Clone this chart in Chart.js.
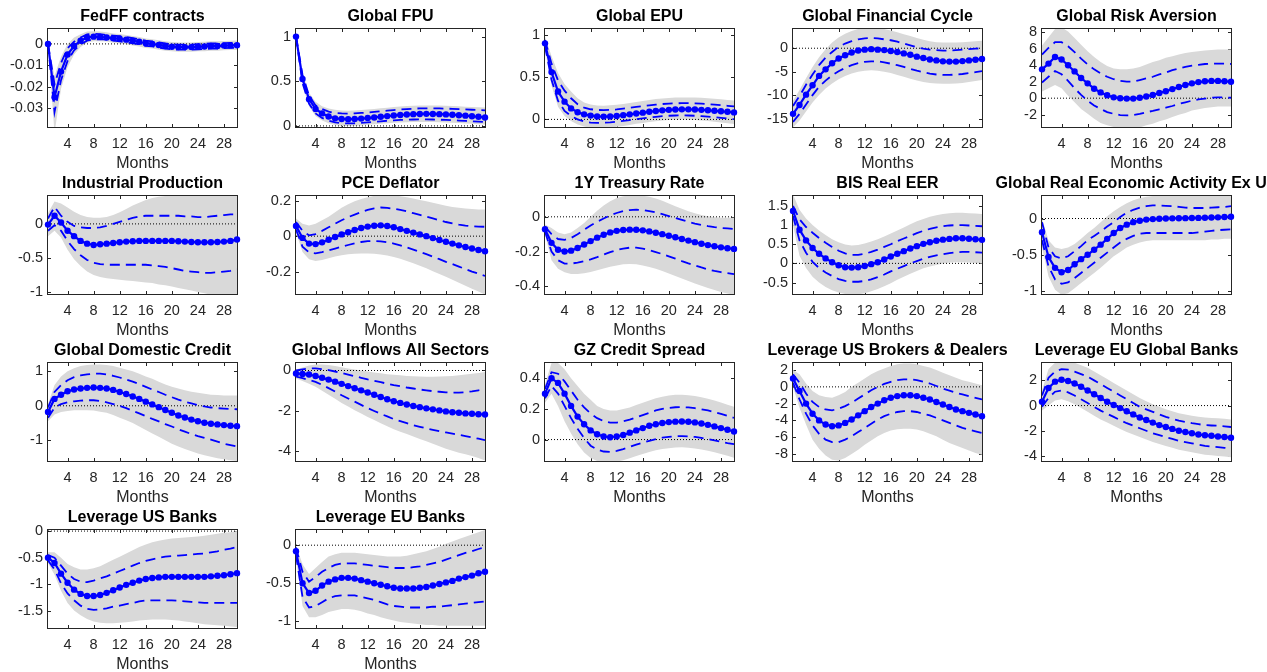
<!DOCTYPE html>
<html>
<head>
<meta charset="utf-8">
<script src="https://cdn.jsdelivr.net/npm/chart.js@4.4.1/dist/chart.umd.min.js"></script>
<style>
  html, body { margin: 0; padding: 0; background: #fff; overflow: hidden; width: 1267px; height: 672px; }
  canvas { position: absolute; }
</style>
</head>
<body>
<script>
// Impulse responses: median (dots), 68% bands (dashed), 90% bands (grey area)
const MONTHS = [1,2,3,4,5,6,7,8,9,10,11,12,13,14,15,16,17,18,19,20,21,22,23,24,25,26,27,28,29,30];
const X_TICKS = [4,8,12,16,20,24,28];

// FedFF contracts
const FEDFF_MED  = [0,-0.025,-0.013,-0.005,-0.001,0.0015,0.003,0.0034,0.0033,0.003,0.0027,0.0024,0.002,0.0015,0.001,0.0003,0,-0.0005,-0.001,-0.0013,-0.0015,-0.0015,-0.0015,-0.0013,-0.0012,-0.001,-0.001,-0.0008,-0.0007,-0.0006];
const FEDFF_LO68 = [0,-0.032,-0.017,-0.008,-0.003,-0.0002,0.0015,0.0022,0.0022,0.002,0.0015,0.0012,0.0008,0.0003,-0.0002,-0.0009,-0.0012,-0.0017,-0.0022,-0.0025,-0.0027,-0.0027,-0.0027,-0.0025,-0.0024,-0.0022,-0.0022,-0.002,-0.0019,-0.0018];
const FEDFF_HI68 = [0,-0.019,-0.009,-0.002,0.001,0.003,0.0045,0.0047,0.0046,0.0042,0.0039,0.0036,0.0032,0.0027,0.0022,0.0015,0.0012,0.0007,0.0002,-0.0001,-0.0003,-0.0003,-0.0003,-0.0001,0,0.0002,0.0002,0.0004,0.0005,0.0006];
const FEDFF_LO90 = [0,-0.042,-0.021,-0.011,-0.005,-0.0015,0.0005,0.0012,0.0012,0.0011,0.0005,0.0002,-0.0002,-0.0007,-0.0012,-0.0019,-0.0022,-0.0027,-0.0032,-0.0035,-0.0037,-0.0037,-0.0037,-0.0035,-0.0034,-0.0032,-0.0032,-0.003,-0.0029,-0.0028];
const FEDFF_HI90 = [0,-0.015,-0.006,0,0.003,0.0045,0.0058,0.006,0.0058,0.0055,0.0049,0.0046,0.0042,0.0037,0.0032,0.0025,0.0022,0.0017,0.0012,0.0009,0.0007,0.0007,0.0007,0.0009,0.001,0.0012,0.0012,0.0014,0.0015,0.0016];
const FEDFF_YTICKS = [-0.03,-0.02,-0.01,0];
const FEDFF_YLABELS = ['-0.03','-0.02','-0.01','0'];

// Global FPU
const FPU_MED  = [1.0,0.525,0.3,0.19,0.14,0.105,0.085,0.078,0.075,0.078,0.082,0.088,0.095,0.103,0.11,0.117,0.123,0.128,0.132,0.134,0.135,0.134,0.132,0.129,0.125,0.12,0.115,0.108,0.102,0.095];
const FPU_LO68 = [1.0,0.48,0.25,0.14,0.09,0.06,0.04,0.03,0.028,0.03,0.034,0.04,0.046,0.052,0.058,0.063,0.067,0.07,0.072,0.073,0.073,0.072,0.07,0.067,0.064,0.06,0.056,0.052,0.048,0.044];
const FPU_HI68 = [1.0,0.57,0.34,0.23,0.19,0.16,0.145,0.14,0.138,0.14,0.145,0.15,0.157,0.164,0.171,0.178,0.184,0.189,0.193,0.196,0.197,0.197,0.196,0.194,0.191,0.188,0.185,0.181,0.178,0.175];
const FPU_LO90 = [1.0,0.45,0.22,0.11,0.06,0.03,0.01,0.0,0.0,0.002,0.006,0.012,0.018,0.024,0.03,0.035,0.039,0.042,0.044,0.045,0.045,0.044,0.042,0.039,0.036,0.032,0.028,0.024,0.02,0.016];
const FPU_HI90 = [1.0,0.6,0.37,0.27,0.22,0.195,0.18,0.172,0.17,0.172,0.177,0.183,0.19,0.197,0.204,0.211,0.217,0.222,0.226,0.228,0.229,0.229,0.228,0.226,0.223,0.22,0.216,0.212,0.208,0.205];
const FPU_YTICKS = [0,0.5,1];
const FPU_YLABELS = ['0','0.5','1'];

// Global EPU
const EPU_MED  = [0.9,0.56,0.33,0.21,0.13,0.085,0.06,0.045,0.035,0.033,0.035,0.04,0.05,0.06,0.07,0.08,0.09,0.1,0.107,0.113,0.117,0.119,0.119,0.117,0.113,0.108,0.102,0.096,0.09,0.083];
const EPU_LO68 = [0.87,0.47,0.22,0.1,0.04,0.0,-0.025,-0.038,-0.042,-0.04,-0.035,-0.028,-0.018,-0.008,0.002,0.012,0.022,0.031,0.038,0.043,0.046,0.047,0.046,0.043,0.038,0.032,0.025,0.018,0.01,0.002];
const EPU_HI68 = [0.94,0.66,0.46,0.34,0.25,0.18,0.14,0.12,0.112,0.11,0.112,0.118,0.127,0.137,0.147,0.157,0.166,0.175,0.182,0.187,0.19,0.192,0.192,0.19,0.186,0.181,0.175,0.168,0.161,0.154];
const EPU_LO90 = [0.84,0.4,0.15,0.04,-0.02,-0.06,-0.085,-0.1,-0.105,-0.102,-0.096,-0.088,-0.077,-0.065,-0.053,-0.042,-0.031,-0.021,-0.013,-0.007,-0.003,-0.002,-0.003,-0.007,-0.013,-0.02,-0.028,-0.036,-0.045,-0.054];
const EPU_HI90 = [0.98,0.75,0.55,0.42,0.33,0.25,0.2,0.175,0.165,0.163,0.166,0.173,0.183,0.195,0.207,0.219,0.23,0.24,0.248,0.254,0.258,0.26,0.26,0.258,0.255,0.25,0.244,0.237,0.23,0.223];
const EPU_YTICKS = [0,0.5,1];
const EPU_YLABELS = ['0','0.5','1'];

// Global Financial Cycle
const GFC_MED  = [-14,-12.1,-9.9,-7.9,-5.9,-4.5,-3.2,-2.2,-1.5,-0.9,-0.5,-0.3,-0.2,-0.3,-0.4,-0.6,-0.8,-1.1,-1.4,-1.8,-2.1,-2.4,-2.6,-2.8,-2.85,-2.85,-2.75,-2.6,-2.45,-2.3];
const GFC_LO68 = [-15.7,-14.0,-12.0,-10.0,-8.2,-6.9,-5.8,-4.9,-4.2,-3.6,-3.2,-2.9,-2.8,-2.8,-3.0,-3.3,-3.6,-4.0,-4.4,-4.8,-5.1,-5.4,-5.6,-5.7,-5.7,-5.6,-5.5,-5.3,-5.1,-4.9];
const GFC_HI68 = [-12.3,-10.2,-7.8,-5.6,-3.6,-2.0,-0.8,0.3,1.0,1.5,1.9,2.1,2.2,2.1,1.9,1.7,1.4,1.0,0.6,0.2,-0.1,-0.3,-0.4,-0.5,-0.5,-0.4,-0.3,-0.2,-0.1,0.0];
const GFC_LO90 = [-16.9,-15.4,-13.5,-11.6,-10.0,-8.6,-7.5,-6.6,-5.9,-5.4,-5.0,-4.8,-4.7,-4.8,-5.0,-5.3,-5.7,-6.1,-6.5,-6.9,-7.2,-7.4,-7.5,-7.6,-7.6,-7.5,-7.4,-7.2,-7.0,-6.8];
const GFC_HI90 = [-11.2,-8.9,-6.4,-4.0,-1.9,-0.2,1.2,2.3,3.1,3.7,4.1,4.3,4.4,4.3,4.1,3.8,3.4,3.0,2.6,2.2,1.8,1.5,1.3,1.2,1.2,1.2,1.3,1.4,1.5,1.6];
const GFC_YTICKS = [-15,-10,-5,0];
const GFC_YLABELS = ['-15','-10','-5','0'];

// Global Risk Aversion
const GRA_MED  = [3.5,4.2,5.0,4.7,4.0,3.25,2.45,1.8,1.15,0.7,0.35,0.1,0.0,-0.05,-0.05,0.05,0.2,0.4,0.62,0.85,1.1,1.35,1.6,1.8,1.95,2.05,2.1,2.1,2.05,2.0];
const GRA_LO68 = [1.9,2.6,3.3,2.9,2.1,1.2,0.4,-0.3,-0.9,-1.3,-1.7,-1.9,-2.05,-2.1,-2.05,-1.9,-1.7,-1.55,-1.35,-1.15,-0.95,-0.7,-0.5,-0.3,-0.15,-0.05,0.05,0.1,0.1,0.05];
const GRA_HI68 = [5.3,6.1,6.8,6.8,6.3,5.6,4.8,4.1,3.5,3.0,2.6,2.3,2.1,2.0,2.0,2.2,2.4,2.6,2.9,3.1,3.4,3.6,3.8,3.95,4.05,4.15,4.2,4.2,4.2,4.15];
const GRA_LO90 = [0.8,1.2,1.6,1.2,0.3,-0.5,-1.3,-1.9,-2.5,-3.0,-3.3,-3.5,-3.7,-3.75,-3.7,-3.55,-3.3,-3.1,-2.8,-2.6,-2.3,-2.0,-1.8,-1.5,-1.35,-1.2,-1.1,-1.0,-1.0,-1.0];
const GRA_HI90 = [6.4,7.4,8.4,8.6,8.1,7.3,6.5,5.7,5.0,4.4,3.9,3.6,3.5,3.5,3.6,3.8,4.1,4.4,4.6,4.9,5.1,5.3,5.5,5.6,5.7,5.8,5.85,5.9,5.9,5.9];
const GRA_YTICKS = [-2,0,2,4,6,8];
const GRA_YLABELS = ['-2','0','2','4','6','8'];

// Industrial Production
const IP_MED  = [-0.01,0.12,0.02,-0.1,-0.18,-0.25,-0.29,-0.31,-0.3,-0.29,-0.28,-0.27,-0.26,-0.255,-0.25,-0.25,-0.25,-0.25,-0.25,-0.25,-0.255,-0.26,-0.265,-0.27,-0.27,-0.27,-0.265,-0.26,-0.25,-0.23];
const IP_LO68 = [-0.1,-0.02,-0.1,-0.25,-0.37,-0.46,-0.53,-0.57,-0.59,-0.6,-0.6,-0.6,-0.6,-0.6,-0.6,-0.6,-0.61,-0.62,-0.63,-0.65,-0.67,-0.69,-0.7,-0.71,-0.72,-0.72,-0.71,-0.7,-0.69,-0.67];
const IP_HI68 = [0.08,0.25,0.12,0.03,-0.03,-0.05,-0.06,-0.06,-0.05,-0.03,0.0,0.03,0.06,0.09,0.11,0.12,0.12,0.12,0.12,0.12,0.12,0.11,0.11,0.1,0.1,0.11,0.12,0.13,0.14,0.14];
const IP_LO90 = [-0.18,-0.1,-0.2,-0.38,-0.52,-0.62,-0.7,-0.75,-0.78,-0.8,-0.81,-0.82,-0.83,-0.84,-0.85,-0.86,-0.87,-0.89,-0.9,-0.92,-0.94,-0.96,-0.98,-1.0,-1.02,-1.04,-1.05,-1.06,-1.06,-1.06];
const IP_HI90 = [0.16,0.33,0.3,0.24,0.18,0.13,0.1,0.09,0.09,0.1,0.13,0.17,0.22,0.27,0.31,0.35,0.38,0.4,0.41,0.42,0.42,0.42,0.42,0.42,0.42,0.42,0.42,0.42,0.42,0.42];
const IP_YTICKS = [-1,-0.5,0];
const IP_YLABELS = ['-1','-0.5','0'];

// PCE Deflator
const PCE_MED  = [0.058,-0.01,-0.042,-0.045,-0.035,-0.02,-0.005,0.01,0.022,0.035,0.046,0.054,0.059,0.061,0.057,0.05,0.04,0.03,0.02,0.01,0.0,-0.011,-0.022,-0.032,-0.042,-0.052,-0.061,-0.07,-0.078,-0.085];
const PCE_LO68 = [0.038,-0.06,-0.092,-0.097,-0.09,-0.08,-0.07,-0.06,-0.05,-0.04,-0.033,-0.028,-0.027,-0.029,-0.034,-0.042,-0.052,-0.064,-0.076,-0.089,-0.102,-0.116,-0.13,-0.145,-0.158,-0.172,-0.186,-0.2,-0.212,-0.225];
const PCE_HI68 = [0.08,0.03,0.005,0.012,0.03,0.05,0.07,0.09,0.107,0.122,0.136,0.148,0.157,0.162,0.16,0.155,0.148,0.14,0.13,0.12,0.11,0.1,0.09,0.08,0.072,0.065,0.06,0.056,0.054,0.053];
const PCE_LO90 = [0.02,-0.09,-0.13,-0.14,-0.135,-0.125,-0.115,-0.108,-0.102,-0.099,-0.098,-0.098,-0.1,-0.104,-0.11,-0.118,-0.128,-0.14,-0.153,-0.167,-0.182,-0.198,-0.214,-0.23,-0.247,-0.264,-0.28,-0.297,-0.313,-0.33];
const PCE_HI90 = [0.1,0.07,0.06,0.07,0.09,0.11,0.135,0.16,0.18,0.197,0.21,0.22,0.228,0.232,0.232,0.23,0.226,0.22,0.213,0.205,0.197,0.189,0.18,0.172,0.165,0.16,0.156,0.153,0.15,0.15];
const PCE_YTICKS = [-0.2,0,0.2];
const PCE_YLABELS = ['-0.2','0','0.2'];

// 1Y Treasury Rate
const T1Y_MED  = [-0.072,-0.15,-0.19,-0.2,-0.195,-0.18,-0.16,-0.14,-0.12,-0.103,-0.09,-0.081,-0.076,-0.074,-0.075,-0.078,-0.084,-0.092,-0.1,-0.109,-0.118,-0.128,-0.137,-0.146,-0.155,-0.163,-0.17,-0.176,-0.181,-0.185];
const T1Y_LO68 = [-0.086,-0.2,-0.25,-0.27,-0.27,-0.264,-0.256,-0.245,-0.232,-0.218,-0.204,-0.192,-0.183,-0.178,-0.178,-0.183,-0.192,-0.203,-0.215,-0.228,-0.241,-0.255,-0.268,-0.28,-0.292,-0.303,-0.312,-0.319,-0.325,-0.33];
const T1Y_HI68 = [-0.058,-0.1,-0.128,-0.133,-0.122,-0.1,-0.075,-0.05,-0.028,-0.01,0.008,0.022,0.033,0.039,0.041,0.039,0.033,0.025,0.015,0.004,-0.007,-0.018,-0.029,-0.039,-0.047,-0.054,-0.06,-0.064,-0.067,-0.07];
const T1Y_LO90 = [-0.1,-0.25,-0.3,-0.32,-0.33,-0.33,-0.325,-0.318,-0.308,-0.298,-0.288,-0.28,-0.274,-0.272,-0.274,-0.28,-0.289,-0.3,-0.313,-0.327,-0.341,-0.356,-0.37,-0.384,-0.398,-0.41,-0.422,-0.433,-0.442,-0.45];
const T1Y_HI90 = [-0.045,-0.065,-0.09,-0.1,-0.09,-0.065,-0.035,0.0,0.035,0.065,0.09,0.108,0.118,0.124,0.125,0.122,0.115,0.105,0.092,0.077,0.061,0.046,0.032,0.02,0.01,0.003,-0.002,-0.005,-0.006,-0.006];
const T1Y_YTICKS = [-0.4,-0.2,0];
const T1Y_YLABELS = ['-0.4','-0.2','0'];

// BIS Real EER
const BIS_MED  = [1.37,0.88,0.6,0.4,0.25,0.13,0.03,-0.05,-0.1,-0.11,-0.1,-0.07,-0.02,0.03,0.1,0.18,0.25,0.32,0.39,0.45,0.51,0.55,0.59,0.62,0.64,0.655,0.655,0.645,0.63,0.615];
const BIS_LO68 = [1.24,0.6,0.28,0.04,-0.12,-0.24,-0.33,-0.41,-0.46,-0.48,-0.48,-0.46,-0.42,-0.36,-0.29,-0.21,-0.14,-0.07,0.0,0.06,0.12,0.17,0.21,0.24,0.27,0.29,0.3,0.3,0.29,0.28];
const BIS_HI68 = [1.5,1.15,0.95,0.8,0.66,0.54,0.43,0.33,0.26,0.22,0.22,0.25,0.3,0.36,0.43,0.5,0.58,0.65,0.72,0.79,0.85,0.9,0.94,0.97,0.99,1.0,1.0,0.99,0.98,0.97];
const BIS_LO90 = [1.0,0.2,-0.12,-0.35,-0.5,-0.62,-0.7,-0.76,-0.8,-0.82,-0.81,-0.78,-0.73,-0.67,-0.6,-0.52,-0.43,-0.35,-0.27,-0.2,-0.13,-0.08,-0.04,0.0,0.02,0.03,0.03,0.02,0.01,0.0];
const BIS_HI90 = [1.8,1.4,1.17,1.0,0.86,0.74,0.63,0.55,0.49,0.47,0.48,0.52,0.57,0.63,0.7,0.78,0.86,0.94,1.02,1.1,1.16,1.22,1.26,1.29,1.31,1.32,1.32,1.31,1.3,1.29];
const BIS_YTICKS = [-0.5,0,0.5,1,1.5];
const BIS_YLABELS = ['-0.5','0','0.5','1','1.5'];

// Global Real Economic Activity Ex US
const GREA_MED  = [-0.19,-0.53,-0.68,-0.74,-0.71,-0.63,-0.56,-0.5,-0.43,-0.36,-0.28,-0.2,-0.13,-0.085,-0.05,-0.03,-0.015,-0.008,-0.004,0.0,0.002,0.004,0.005,0.006,0.008,0.01,0.013,0.016,0.02,0.024];
const GREA_LO68 = [-0.3,-0.66,-0.84,-0.9,-0.88,-0.82,-0.75,-0.68,-0.61,-0.54,-0.47,-0.4,-0.33,-0.28,-0.24,-0.21,-0.2,-0.2,-0.2,-0.2,-0.2,-0.2,-0.2,-0.2,-0.19,-0.18,-0.17,-0.16,-0.155,-0.15];
const GREA_HI68 = [-0.05,-0.4,-0.52,-0.55,-0.52,-0.45,-0.38,-0.3,-0.24,-0.18,-0.11,-0.05,0.02,0.08,0.12,0.15,0.17,0.18,0.18,0.175,0.17,0.16,0.15,0.145,0.145,0.145,0.15,0.155,0.16,0.17];
const GREA_LO90 = [-0.4,-0.8,-0.98,-1.05,-1.03,-0.96,-0.89,-0.82,-0.75,-0.68,-0.6,-0.52,-0.46,-0.4,-0.36,-0.33,-0.31,-0.3,-0.3,-0.3,-0.3,-0.3,-0.3,-0.3,-0.3,-0.3,-0.29,-0.29,-0.28,-0.28];
const GREA_HI90 = [0.0,-0.3,-0.4,-0.42,-0.4,-0.35,-0.28,-0.2,-0.13,-0.05,0.03,0.1,0.16,0.21,0.25,0.28,0.3,0.31,0.32,0.32,0.32,0.32,0.32,0.32,0.32,0.32,0.32,0.32,0.32,0.32];
const GREA_YTICKS = [-1,-0.5,0];
const GREA_YLABELS = ['-1','-0.5','0'];

// Global Domestic Credit
const GDC_MED  = [-0.18,0.2,0.32,0.42,0.47,0.5,0.52,0.53,0.52,0.5,0.46,0.4,0.34,0.27,0.2,0.12,0.04,-0.04,-0.12,-0.2,-0.28,-0.34,-0.4,-0.45,-0.49,-0.52,-0.54,-0.56,-0.58,-0.59];
const GDC_LO68 = [-0.35,-0.05,0.05,0.1,0.13,0.15,0.16,0.16,0.14,0.1,0.05,0.0,-0.07,-0.15,-0.22,-0.3,-0.38,-0.45,-0.53,-0.6,-0.68,-0.75,-0.82,-0.88,-0.93,-0.98,-1.04,-1.1,-1.14,-1.18];
const GDC_HI68 = [-0.05,0.4,0.6,0.74,0.83,0.88,0.91,0.93,0.93,0.91,0.87,0.82,0.76,0.7,0.63,0.55,0.47,0.4,0.32,0.25,0.18,0.12,0.07,0.02,-0.02,-0.05,-0.07,-0.08,-0.09,-0.1];
const GDC_LO90 = [-0.45,-0.25,-0.18,-0.15,-0.13,-0.13,-0.13,-0.14,-0.17,-0.2,-0.27,-0.35,-0.42,-0.5,-0.6,-0.7,-0.8,-0.9,-1.0,-1.1,-1.18,-1.25,-1.32,-1.38,-1.43,-1.48,-1.52,-1.55,-1.58,-1.6];
const GDC_HI90 = [0.05,0.6,0.85,1.0,1.09,1.15,1.18,1.2,1.2,1.18,1.15,1.1,1.05,1.0,0.93,0.85,0.78,0.7,0.62,0.55,0.5,0.45,0.41,0.38,0.35,0.32,0.31,0.3,0.3,0.3];
const GDC_YTICKS = [-1,0,1];
const GDC_YLABELS = ['-1','0','1'];

// Global Inflows All Sectors
const GIAS_MED  = [-0.15,-0.17,-0.2,-0.27,-0.36,-0.45,-0.55,-0.66,-0.77,-0.88,-0.98,-1.09,-1.2,-1.31,-1.42,-1.52,-1.6,-1.68,-1.75,-1.81,-1.87,-1.92,-1.97,-2.02,-2.06,-2.09,-2.12,-2.14,-2.16,-2.17];
const GIAS_LO68 = [-0.3,-0.38,-0.47,-0.56,-0.71,-0.87,-1.04,-1.22,-1.38,-1.54,-1.7,-1.86,-2.0,-2.14,-2.27,-2.4,-2.5,-2.6,-2.7,-2.78,-2.86,-2.93,-3.0,-3.06,-3.12,-3.18,-3.24,-3.3,-3.37,-3.44];
const GIAS_HI68 = [0.0,0.06,0.1,0.1,0.07,0.02,-0.05,-0.12,-0.2,-0.28,-0.36,-0.44,-0.51,-0.58,-0.65,-0.72,-0.78,-0.84,-0.89,-0.94,-0.98,-1.02,-1.05,-1.08,-1.09,-1.09,-1.07,-1.03,-0.98,-0.93];
const GIAS_LO90 = [-0.4,-0.52,-0.65,-0.8,-1.0,-1.2,-1.4,-1.6,-1.78,-1.96,-2.13,-2.3,-2.45,-2.6,-2.75,-2.9,-3.02,-3.14,-3.26,-3.38,-3.5,-3.62,-3.74,-3.86,-3.96,-4.06,-4.14,-4.22,-4.32,-4.45];
const GIAS_HI90 = [0.05,0.15,0.25,0.3,0.3,0.27,0.22,0.16,0.1,0.05,0.0,-0.05,-0.1,-0.14,-0.18,-0.21,-0.24,-0.27,-0.29,-0.3,-0.31,-0.31,-0.3,-0.29,-0.27,-0.24,-0.2,-0.16,-0.12,-0.08];
const GIAS_YTICKS = [-4,-2,0];
const GIAS_YLABELS = ['-4','-2','0'];

// GZ Credit Spread
const GZ_MED  = [0.3,0.4,0.37,0.3,0.22,0.15,0.1,0.06,0.035,0.02,0.015,0.02,0.03,0.045,0.06,0.075,0.09,0.1,0.108,0.114,0.117,0.118,0.116,0.112,0.105,0.096,0.086,0.075,0.064,0.053];
const GZ_LO68 = [0.27,0.35,0.3,0.22,0.14,0.07,0.01,-0.04,-0.065,-0.078,-0.08,-0.074,-0.062,-0.048,-0.033,-0.02,-0.008,0.003,0.012,0.018,0.022,0.023,0.021,0.017,0.011,0.003,-0.006,-0.015,-0.023,-0.03];
const GZ_HI68 = [0.33,0.44,0.43,0.38,0.32,0.26,0.21,0.17,0.14,0.12,0.11,0.11,0.12,0.13,0.145,0.16,0.175,0.19,0.2,0.207,0.211,0.212,0.21,0.205,0.198,0.19,0.18,0.168,0.155,0.142];
const GZ_LO90 = [0.24,0.3,0.22,0.12,0.04,-0.03,-0.085,-0.12,-0.14,-0.15,-0.15,-0.145,-0.135,-0.122,-0.108,-0.095,-0.082,-0.07,-0.062,-0.056,-0.052,-0.051,-0.053,-0.058,-0.065,-0.073,-0.083,-0.094,-0.106,-0.118];
const GZ_HI90 = [0.36,0.5,0.5,0.46,0.4,0.35,0.3,0.26,0.22,0.2,0.19,0.19,0.2,0.21,0.225,0.24,0.255,0.27,0.28,0.288,0.292,0.293,0.29,0.285,0.277,0.267,0.255,0.242,0.228,0.215];
const GZ_YTICKS = [0,0.2,0.4];
const GZ_YLABELS = ['0','0.2','0.4'];

// Leverage US Brokers & Dealers
const LUSBD_MED  = [1.0,-0.5,-2.0,-3.2,-4.0,-4.5,-4.7,-4.6,-4.3,-3.9,-3.4,-2.9,-2.4,-2.0,-1.6,-1.3,-1.1,-1.0,-1.0,-1.1,-1.3,-1.5,-1.8,-2.1,-2.4,-2.7,-2.9,-3.1,-3.3,-3.5];
const LUSBD_LO68 = [0.5,-1.5,-3.2,-4.6,-5.6,-6.3,-6.6,-6.6,-6.3,-5.9,-5.4,-4.9,-4.4,-3.9,-3.5,-3.2,-3.0,-2.9,-2.9,-3.0,-3.2,-3.4,-3.7,-4.0,-4.3,-4.6,-4.9,-5.1,-5.3,-5.5];
const LUSBD_HI68 = [1.5,0.5,-0.8,-1.8,-2.4,-2.7,-2.8,-2.6,-2.3,-1.9,-1.4,-0.9,-0.4,0.0,0.35,0.6,0.8,0.9,0.9,0.8,0.6,0.4,0.1,-0.2,-0.45,-0.7,-0.9,-1.1,-1.3,-1.5];
const LUSBD_LO90 = [0.0,-2.5,-4.5,-6.3,-7.4,-8.2,-8.7,-8.8,-8.5,-8.0,-7.5,-6.9,-6.4,-5.9,-5.5,-5.2,-5.05,-5.0,-5.0,-5.1,-5.3,-5.6,-5.9,-6.3,-6.7,-7.0,-7.3,-7.6,-7.9,-8.1];
const LUSBD_HI90 = [2.0,1.5,0.4,-0.5,-1.0,-1.2,-1.3,-1.0,-0.6,0.0,0.5,1.0,1.5,1.9,2.2,2.5,2.7,2.8,2.8,2.7,2.5,2.3,2.0,1.7,1.4,1.1,0.8,0.6,0.4,0.2];
const LUSBD_YTICKS = [-8,-6,-4,-2,0,2];
const LUSBD_YLABELS = ['-8','-6','-4','-2','0','2'];

// Leverage EU Global Banks
const LEUGB_MED  = [0.3,1.4,1.9,2.05,1.95,1.75,1.5,1.2,0.9,0.6,0.3,0.05,-0.2,-0.45,-0.7,-0.95,-1.15,-1.35,-1.55,-1.7,-1.85,-2.0,-2.1,-2.2,-2.3,-2.35,-2.4,-2.45,-2.5,-2.55];
const LEUGB_LO68 = [-0.1,0.6,1.1,1.2,1.05,0.8,0.5,0.2,-0.1,-0.4,-0.65,-0.9,-1.15,-1.4,-1.6,-1.8,-2.0,-2.2,-2.35,-2.5,-2.65,-2.8,-2.9,-3.0,-3.1,-3.2,-3.25,-3.3,-3.35,-3.4];
const LEUGB_HI68 = [0.8,2.2,2.7,2.9,2.85,2.7,2.5,2.3,2.0,1.7,1.4,1.1,0.8,0.5,0.2,-0.1,-0.3,-0.5,-0.7,-0.9,-1.05,-1.2,-1.3,-1.4,-1.48,-1.55,-1.58,-1.6,-1.65,-1.7];
const LEUGB_LO90 = [-0.4,0.0,0.4,0.5,0.35,0.1,-0.2,-0.5,-0.8,-1.1,-1.35,-1.6,-1.85,-2.1,-2.3,-2.5,-2.7,-2.9,-3.05,-3.2,-3.35,-3.5,-3.6,-3.7,-3.8,-3.9,-3.95,-4.0,-4.05,-4.1];
const LEUGB_HI90 = [1.2,2.9,3.4,3.5,3.5,3.4,3.2,3.0,2.7,2.4,2.1,1.8,1.5,1.2,0.9,0.6,0.35,0.1,-0.1,-0.3,-0.45,-0.6,-0.7,-0.8,-0.88,-0.95,-0.98,-1.0,-1.05,-1.1];
const LEUGB_YTICKS = [-4,-2,0,2];
const LEUGB_YLABELS = ['-4','-2','0','2'];

// Leverage US Banks
const LUSB_MED  = [-0.5,-0.6,-0.8,-0.97,-1.1,-1.18,-1.22,-1.22,-1.2,-1.16,-1.11,-1.06,-1.01,-0.97,-0.93,-0.9,-0.88,-0.87,-0.86,-0.86,-0.86,-0.86,-0.86,-0.86,-0.86,-0.85,-0.84,-0.83,-0.81,-0.79];
const LUSB_LO68 = [-0.55,-0.72,-0.98,-1.17,-1.3,-1.4,-1.46,-1.48,-1.47,-1.45,-1.42,-1.4,-1.37,-1.35,-1.32,-1.3,-1.3,-1.3,-1.3,-1.3,-1.31,-1.32,-1.33,-1.34,-1.35,-1.35,-1.35,-1.35,-1.35,-1.35];
const LUSB_HI68 = [-0.45,-0.5,-0.65,-0.8,-0.9,-0.95,-0.96,-0.93,-0.89,-0.85,-0.8,-0.75,-0.7,-0.65,-0.6,-0.56,-0.53,-0.5,-0.48,-0.47,-0.46,-0.45,-0.44,-0.43,-0.42,-0.4,-0.38,-0.35,-0.33,-0.3];
const LUSB_LO90 = [-0.6,-0.82,-1.12,-1.35,-1.49,-1.58,-1.65,-1.7,-1.72,-1.73,-1.73,-1.72,-1.71,-1.7,-1.68,-1.67,-1.66,-1.66,-1.66,-1.67,-1.68,-1.7,-1.71,-1.73,-1.75,-1.76,-1.77,-1.78,-1.79,-1.8];
const LUSB_HI90 = [-0.4,-0.4,-0.5,-0.62,-0.68,-0.72,-0.72,-0.7,-0.66,-0.6,-0.54,-0.48,-0.42,-0.36,-0.3,-0.25,-0.21,-0.18,-0.16,-0.14,-0.13,-0.12,-0.11,-0.1,-0.09,-0.07,-0.05,-0.03,-0.02,0.0];
const LUSB_YTICKS = [-1.5,-1,-0.5,0];
const LUSB_YLABELS = ['-1.5','-1','-0.5','0'];

// Leverage EU Banks
const LEUB_MED  = [-0.08,-0.5,-0.63,-0.6,-0.53,-0.48,-0.45,-0.43,-0.43,-0.44,-0.46,-0.48,-0.5,-0.52,-0.54,-0.56,-0.57,-0.57,-0.57,-0.56,-0.55,-0.53,-0.51,-0.49,-0.47,-0.44,-0.42,-0.4,-0.37,-0.35];
const LEUB_LO68 = [-0.13,-0.68,-0.82,-0.8,-0.75,-0.7,-0.67,-0.66,-0.66,-0.66,-0.68,-0.7,-0.72,-0.75,-0.78,-0.8,-0.81,-0.82,-0.82,-0.82,-0.82,-0.81,-0.81,-0.8,-0.79,-0.78,-0.77,-0.76,-0.75,-0.74];
const LEUB_HI68 = [-0.03,-0.35,-0.48,-0.42,-0.35,-0.3,-0.26,-0.24,-0.24,-0.24,-0.25,-0.26,-0.27,-0.28,-0.29,-0.3,-0.3,-0.3,-0.29,-0.28,-0.26,-0.24,-0.22,-0.19,-0.16,-0.13,-0.1,-0.08,-0.05,-0.03];
const LEUB_LO90 = [-0.17,-0.8,-0.95,-0.95,-0.92,-0.88,-0.86,-0.84,-0.84,-0.85,-0.87,-0.9,-0.92,-0.95,-0.97,-0.99,-1.01,-1.02,-1.03,-1.04,-1.05,-1.05,-1.06,-1.06,-1.06,-1.06,-1.06,-1.06,-1.06,-1.06];
const LEUB_HI90 = [0.0,-0.25,-0.38,-0.3,-0.22,-0.15,-0.12,-0.1,-0.1,-0.1,-0.11,-0.12,-0.13,-0.14,-0.15,-0.15,-0.15,-0.14,-0.12,-0.1,-0.08,-0.05,-0.02,0.02,0.05,0.08,0.11,0.14,0.17,0.2];
const LEUB_YTICKS = [-1,-0.5,0];
const LEUB_YLABELS = ['-1','-0.5','0'];

// Panel list, in reading order (5 per row)
const PANELS = [
  { title: 'FedFF contracts', med: FEDFF_MED, lo68: FEDFF_LO68, hi68: FEDFF_HI68, lo90: FEDFF_LO90, hi90: FEDFF_HI90, yMin: -0.039, yMax: 0.007, yTicks: FEDFF_YTICKS, yLabels: FEDFF_YLABELS },
  { title: 'Global FPU', med: FPU_MED, lo68: FPU_LO68, hi68: FPU_HI68, lo90: FPU_LO90, hi90: FPU_HI90, yMin: -0.012, yMax: 1.085, yTicks: FPU_YTICKS, yLabels: FPU_YLABELS },
  { title: 'Global EPU', med: EPU_MED, lo68: EPU_LO68, hi68: EPU_HI68, lo90: EPU_LO90, hi90: EPU_HI90, yMin: -0.09, yMax: 1.07, yTicks: EPU_YTICKS, yLabels: EPU_YLABELS },
  { title: 'Global Financial Cycle', med: GFC_MED, lo68: GFC_LO68, hi68: GFC_HI68, lo90: GFC_LO90, hi90: GFC_HI90, yMin: -16.8, yMax: 4.1, yTicks: GFC_YTICKS, yLabels: GFC_YLABELS },
  { title: 'Global Risk Aversion', med: GRA_MED, lo68: GRA_LO68, hi68: GRA_HI68, lo90: GRA_LO90, hi90: GRA_HI90, yMin: -3.5, yMax: 8.4, yTicks: GRA_YTICKS, yLabels: GRA_YLABELS },
  { title: 'Industrial Production', med: IP_MED, lo68: IP_LO68, hi68: IP_HI68, lo90: IP_LO90, hi90: IP_HI90, yMin: -1.03, yMax: 0.41, yTicks: IP_YTICKS, yLabels: IP_YLABELS },
  { title: 'PCE Deflator', med: PCE_MED, lo68: PCE_LO68, hi68: PCE_HI68, lo90: PCE_LO90, hi90: PCE_HI90, yMin: -0.327, yMax: 0.227, yTicks: PCE_YTICKS, yLabels: PCE_YLABELS },
  { title: '1Y Treasury Rate', med: T1Y_MED, lo68: T1Y_LO68, hi68: T1Y_HI68, lo90: T1Y_LO90, hi90: T1Y_HI90, yMin: -0.445, yMax: 0.12, yTicks: T1Y_YTICKS, yLabels: T1Y_YLABELS },
  { title: 'BIS Real EER', med: BIS_MED, lo68: BIS_LO68, hi68: BIS_HI68, lo90: BIS_LO90, hi90: BIS_HI90, yMin: -0.8, yMax: 1.76, yTicks: BIS_YTICKS, yLabels: BIS_YLABELS },
  { title: 'Global Real Economic Activity Ex US', med: GREA_MED, lo68: GREA_LO68, hi68: GREA_HI68, lo90: GREA_LO90, hi90: GREA_HI90, yMin: -1.04, yMax: 0.31, yTicks: GREA_YTICKS, yLabels: GREA_YLABELS },
  { title: 'Global Domestic Credit', med: GDC_MED, lo68: GDC_LO68, hi68: GDC_HI68, lo90: GDC_LO90, hi90: GDC_HI90, yMin: -1.6, yMax: 1.24, yTicks: GDC_YTICKS, yLabels: GDC_YLABELS },
  { title: 'Global Inflows All Sectors', med: GIAS_MED, lo68: GIAS_LO68, hi68: GIAS_HI68, lo90: GIAS_LO90, hi90: GIAS_HI90, yMin: -4.47, yMax: 0.37, yTicks: GIAS_YTICKS, yLabels: GIAS_YLABELS },
  { title: 'GZ Credit Spread', med: GZ_MED, lo68: GZ_LO68, hi68: GZ_HI68, lo90: GZ_LO90, hi90: GZ_HI90, yMin: -0.14, yMax: 0.5, yTicks: GZ_YTICKS, yLabels: GZ_YLABELS },
  { title: 'Leverage US Brokers & Dealers', med: LUSBD_MED, lo68: LUSBD_LO68, hi68: LUSBD_HI68, lo90: LUSBD_LO90, hi90: LUSBD_HI90, yMin: -8.85, yMax: 2.85, yTicks: LUSBD_YTICKS, yLabels: LUSBD_YLABELS },
  { title: 'Leverage EU Global Banks', med: LEUGB_MED, lo68: LEUGB_LO68, hi68: LEUGB_HI68, lo90: LEUGB_LO90, hi90: LEUGB_HI90, yMin: -4.4, yMax: 3.38, yTicks: LEUGB_YTICKS, yLabels: LEUGB_YLABELS },
  { title: 'Leverage US Banks', med: LUSB_MED, lo68: LUSB_LO68, hi68: LUSB_HI68, lo90: LUSB_LO90, hi90: LUSB_HI90, yMin: -1.82, yMax: 0.02, yTicks: LUSB_YTICKS, yLabels: LUSB_YLABELS },
  { title: 'Leverage EU Banks', med: LEUB_MED, lo68: LEUB_LO68, hi68: LEUB_HI68, lo90: LEUB_LO90, hi90: LEUB_HI90, yMin: -1.09, yMax: 0.2, yTicks: LEUB_YTICKS, yLabels: LEUB_YLABELS }
];

// Grid of axes boxes
const COL_LEFT = [48, 296, 545, 793, 1042];
const ROW_TOP = [29, 196, 363, 530];
const PLOT_W = 189, PLOT_H = 98;
const M_LEFT = 60, M_RIGHT = 40, M_TOP = 32, M_BOTTOM = 46;

const FONT = '"Liberation Sans", Arial, Helvetica, sans-serif';
const BLUE = '#0000ff';
const BAND = 'rgb(217,217,217)';
const AXIS = '#262626';

Chart.defaults.font.family = FONT;
Chart.defaults.color = AXIS;

const pts = arr => arr.map((v, i) => ({ x: MONTHS[i], y: v }));

// Box, inward tick marks and panel title
const axesFrame = {
  id: 'axesFrame',
  beforeDatasetsDraw(chart, args, opts) {
    const { ctx, chartArea: a } = chart;
    const xs = chart.scales.x, ys = chart.scales.y;
    ctx.save();
    ctx.strokeStyle = AXIS;
    ctx.lineWidth = 1;
    ctx.strokeRect(a.left - 0.5, a.top - 0.5, a.right - a.left + 1, a.bottom - a.top + 1);
    ctx.beginPath();
    xs.ticks.forEach(t => {
      const px = Math.round(xs.getPixelForValue(t.value)) + 0.5;
      ctx.moveTo(px, a.bottom); ctx.lineTo(px, a.bottom - 3);
      ctx.moveTo(px, a.top); ctx.lineTo(px, a.top + 3);
    });
    ys.ticks.forEach(t => {
      const py = Math.round(ys.getPixelForValue(t.value)) + 0.5;
      ctx.moveTo(a.left, py); ctx.lineTo(a.left + 3, py);
      ctx.moveTo(a.right, py); ctx.lineTo(a.right - 3, py);
    });
    ctx.stroke();
    ctx.fillStyle = '#000';
    ctx.font = 'bold 16px ' + FONT;
    ctx.textAlign = 'center';
    ctx.textBaseline = 'middle';
    ctx.fillText(opts.text, (a.left + a.right) / 2, a.top - 12);
    ctx.restore();
  }
};

PANELS.forEach((p, i) => {
  const col = i % 5, row = Math.floor(i / 5);
  const cv = document.createElement('canvas');
  cv.width = M_LEFT + PLOT_W + M_RIGHT;
  cv.height = M_TOP + PLOT_H + M_BOTTOM;
  cv.style.left = (COL_LEFT[col] - M_LEFT) + 'px';
  cv.style.top = (ROW_TOP[row] - M_TOP) + 'px';
  document.body.appendChild(cv);

  new Chart(cv, {
    type: 'line',
    data: {
      datasets: [
        { data: pts(p.med), borderColor: BLUE, borderWidth: 2.2, pointRadius: 3.2, pointBackgroundColor: BLUE, pointBorderWidth: 0, fill: false, clip: false },
        { data: pts(p.hi68), borderColor: BLUE, borderWidth: 1.8, borderDash: [10, 6], pointRadius: 0, fill: false },
        { data: pts(p.lo68), borderColor: BLUE, borderWidth: 1.8, borderDash: [10, 6], pointRadius: 0, fill: false },
        { data: [{ x: MONTHS[0], y: 0 }, { x: MONTHS[MONTHS.length - 1], y: 0 }], borderColor: '#000', borderWidth: 1, borderDash: [1, 2], pointRadius: 0, fill: false },
        { data: pts(p.hi90), borderColor: 'rgba(0,0,0,0)', borderWidth: 0, pointRadius: 0, fill: false },
        { data: pts(p.lo90), borderColor: 'rgba(0,0,0,0)', borderWidth: 0, pointRadius: 0, fill: '-1', backgroundColor: BAND }
      ]
    },
    options: {
      responsive: false,
      animation: false,
      devicePixelRatio: 1,
      events: [],
      layout: { padding: { top: M_TOP, right: M_RIGHT, left: 0, bottom: 0 } },
      plugins: {
        legend: { display: false },
        tooltip: { enabled: false },
        axesFrame: { text: p.title }
      },
      scales: {
        x: {
          type: 'linear', min: 1, max: 30,
          grid: { display: false, drawTicks: false },
          border: { display: false },
          afterBuildTicks: s => { s.ticks = X_TICKS.map(v => ({ value: v })); },
          afterFit: s => { s.height = M_BOTTOM; },
          ticks: { autoSkip: false, maxRotation: 0, padding: 8, font: { size: 14.5 }, color: AXIS, callback: v => String(v) },
          title: { display: true, text: 'Months', font: { size: 16 }, color: AXIS, padding: { top: 0, bottom: 0 } }
        },
        y: {
          type: 'linear', min: p.yMin, max: p.yMax,
          grid: { display: false, drawTicks: false },
          border: { display: false },
          afterBuildTicks: s => { s.ticks = p.yTicks.map(v => ({ value: v })); },
          afterFit: s => { s.width = M_LEFT; },
          ticks: { autoSkip: false, padding: 5, font: { size: 14.5 }, color: AXIS, callback: (v, idx) => p.yLabels[idx] }
        }
      }
    },
    plugins: [axesFrame]
  });
});
</script>
</body>
</html>
